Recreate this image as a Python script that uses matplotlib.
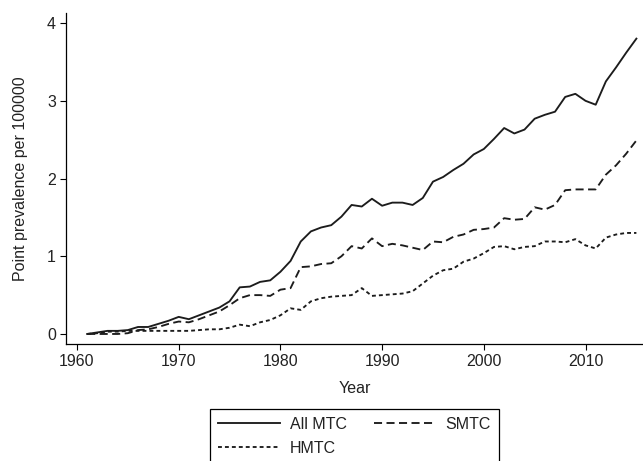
import matplotlib
matplotlib.use('Agg')
import matplotlib.pyplot as plt

years = list(range(1961, 2016))

all_mtc = [0.00, 0.02, 0.04, 0.04, 0.05, 0.09, 0.09, 0.13, 0.17, 0.22,
           0.19, 0.24, 0.29, 0.34, 0.42, 0.60, 0.61, 0.67, 0.69, 0.80,
           0.94, 1.19, 1.32, 1.37, 1.40, 1.51, 1.66, 1.64, 1.74, 1.65,
           1.69, 1.69, 1.66, 1.75, 1.96, 2.02, 2.11, 2.19, 2.31, 2.38,
           2.51, 2.65, 2.58, 2.63, 2.77, 2.82, 2.86, 3.05, 3.09, 3.00,
           2.95, 3.25, 3.43, 3.62, 3.80]

smtc = [0.00, 0.00, 0.00, 0.00, 0.01, 0.05, 0.06, 0.09, 0.13, 0.16,
        0.15, 0.19, 0.24, 0.29, 0.37, 0.46, 0.50, 0.50, 0.49, 0.57,
        0.59, 0.86, 0.87, 0.90, 0.91, 1.00, 1.13, 1.10, 1.23, 1.13,
        1.16, 1.14, 1.11, 1.08, 1.19, 1.18, 1.25, 1.28, 1.34, 1.35,
        1.37, 1.49, 1.47, 1.48, 1.63, 1.60, 1.66, 1.85, 1.86, 1.86,
        1.86, 2.05, 2.17, 2.32, 2.49]

hmtc = [0.00, 0.01, 0.03, 0.03, 0.04, 0.04, 0.04, 0.04, 0.04, 0.04,
        0.04, 0.05, 0.06, 0.06, 0.08, 0.12, 0.10, 0.15, 0.18, 0.24,
        0.33, 0.31, 0.42, 0.46, 0.48, 0.49, 0.50, 0.59, 0.49, 0.50,
        0.51, 0.52, 0.55, 0.65, 0.75, 0.82, 0.84, 0.93, 0.97, 1.04,
        1.12, 1.13, 1.09, 1.12, 1.13, 1.19, 1.19, 1.18, 1.22, 1.14,
        1.10, 1.24, 1.28, 1.30, 1.30]

xticks = [1960, 1970, 1980, 1990, 2000, 2010]
yticks = [0, 1, 2, 3, 4]

plt.rcParams['font.family'] = ['Liberation Sans', 'DejaVu Sans']
plt.rcParams['font.size'] = 11.5
plt.rcParams['lines.scale_dashes'] = False

W, H = 643, 461
fig = plt.figure(figsize=(W / 100, H / 100), dpi=100)
# axes box in pixels: left spine x=66, bottom spine y=344, top y=13
ax = fig.add_axes([66 / W, (H - 344) / H, (W - 66) / W, (344 - 13) / H])

c = '#1c1c1c'
l1, = ax.plot(years, all_mtc, color=c, lw=1.35, label='All MTC')
l2, = ax.plot(years, smtc, color=c, lw=1.35, dashes=(5.8, 3.2), label='SMTC')
l3, = ax.plot(years, hmtc, color=c, lw=1.35, dashes=(2.8, 2.2), label='HMTC')

ax.set_xlim(1958.92, 2015.65)
ax.set_ylim(-0.129, 4.13)
ax.set_xticks(xticks)
ax.set_yticks(yticks)

for s in ['top', 'right']:
    ax.spines[s].set_visible(False)
for s in ['left', 'bottom']:
    ax.spines[s].set_linewidth(0.9)
    ax.spines[s].set_color('black')
ax.tick_params(direction='out', length=4.2, width=0.8, pad=3, colors='black',
               labelcolor='#222222')

ax.set_xlabel('Year', color='#222222')
ax.set_ylabel('Point prevalence per 100000', color='#222222')
ax.xaxis.set_label_coords(0.5, (344 - 381) / 331)
ax.yaxis.set_label_coords((28 - 66) / 577, 0.5)

leg = fig.legend([l1, l3, l2], ['All MTC', 'HMTC', 'SMTC'], ncol=2,
                 loc='upper center', bbox_to_anchor=((66 + 643) / 2 / W, 1 - 409 / H),
                 frameon=True, fancybox=False, framealpha=1, edgecolor='black',
                 handlelength=3.9, handletextpad=0.6, columnspacing=1.7,
                 labelspacing=0.55, borderpad=0.5, borderaxespad=0)
leg.get_frame().set_linewidth(0.9)
for t in leg.get_texts():
    t.set_color('#222222')

fig.savefig('out.png', dpi=100)
